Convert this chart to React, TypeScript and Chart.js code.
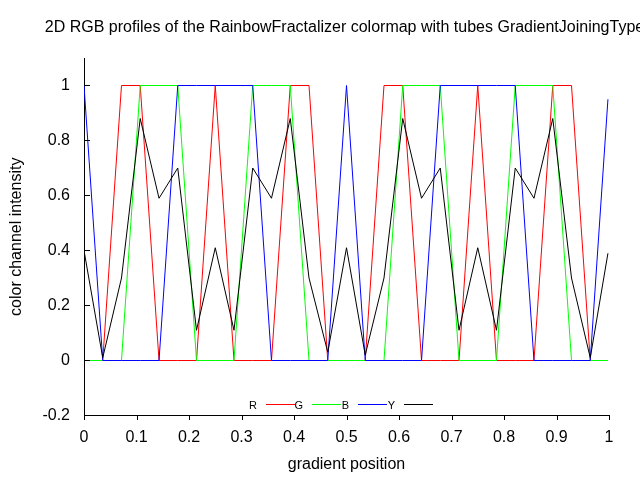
import React, { useEffect, useRef } from "react";
import { Chart, registerables } from "chart.js";

Chart.register(...registerables);

const TITLE = "2D RGB profiles of the RainbowFractalizer colormap with tubes GradientJoiningType";
const X_LABEL = "gradient position";
const Y_LABEL = "color channel intensity";

const POSITIONS = [
  0, 0.0357, 0.0714, 0.1071, 0.1429, 0.1786, 0.2143, 0.25, 0.2857, 0.3214,
  0.3571, 0.3929, 0.4286, 0.4643, 0.5, 0.5357, 0.5714, 0.6071, 0.6429, 0.6786,
  0.7143, 0.75, 0.7857, 0.8214, 0.8571, 0.8929, 0.9286, 0.9643, 0.998,
];
const R_VALUES = [0, 0, 1, 1, 0, 0, 0, 1, 0, 0, 0, 1, 1, 0, 0, 0, 1, 1, 0, 0, 0, 1, 0, 0, 0, 1, 1, 0, 0];
const G_VALUES = [0, 0, 0, 1, 1, 1, 0, 0, 0, 1, 1, 1, 0, 0, 0, 0, 0, 1, 1, 1, 0, 0, 0, 1, 1, 1, 0, 0, 0];
const B_VALUES = [1, 0, 0, 0, 0, 1, 1, 1, 1, 1, 0, 0, 0, 0, 1, 0, 0, 0, 0, 1, 1, 1, 1, 1, 0, 0, 0, 0, 0.95];
const Y_VALUES = [
  0.4, 0.01, 0.3, 0.88, 0.59, 0.7, 0.11, 0.41, 0.11, 0.7, 0.59, 0.88, 0.3, 0.03,
  0.41, 0.02, 0.3, 0.88, 0.59, 0.7, 0.11, 0.41, 0.11, 0.7, 0.59, 0.88, 0.3, 0.01, 0.39,
];

const SERIES_NAMES = ["R", "G", "B", "Y"];
const SERIES_COLORS = ["#ff0000", "#00ff00", "#0000ff", "#000000"];
const SERIES_VALUES = [R_VALUES, G_VALUES, B_VALUES, Y_VALUES];

const X_TICKS = [0, 0.1, 0.2, 0.3, 0.4, 0.5, 0.6, 0.7, 0.8, 0.9, 1];
const X_TICK_LABELS = ["0", "0.1", "0.2", "0.3", "0.4", "0.5", "0.6", "0.7", "0.8", "0.9", "1"];
const Y_TICKS = [-0.2, 0, 0.2, 0.4, 0.6, 0.8, 1];
const Y_TICK_LABELS = ["-0.2", "0", "0.2", "0.4", "0.6", "0.8", "1"];

const FONT = "'Liberation Sans', Arial, sans-serif";

const decorPlugin = {
  id: "decor",
  afterDraw(chart: any) {
    const { ctx, chartArea } = chart;
    const xs = chart.scales.x;
    const ys = chart.scales.y;
    ctx.save();
    ctx.strokeStyle = "#000";
    ctx.lineWidth = 1;
    ctx.beginPath();
    Y_TICKS.forEach((v) => {
      const py = Math.floor(ys.getPixelForValue(v)) + 0.5;
      ctx.moveTo(chartArea.left, py);
      ctx.lineTo(chartArea.left + 6, py);
    });
    const bottom = Math.floor(chartArea.bottom);
    X_TICKS.forEach((v) => {
      const px = Math.round(xs.getPixelForValue(v)) + 0.5;
      ctx.moveTo(px, bottom);
      ctx.lineTo(px, bottom + 5);
    });
    ctx.stroke();

    const cx = (chartArea.left + chartArea.right) / 2;
    ctx.fillStyle = "#000";
    ctx.font = `16px ${FONT}`;
    ctx.textAlign = "center";
    ctx.textBaseline = "alphabetic";
    ctx.fillText(TITLE, cx - 2, chartArea.top - 26);

    ctx.font = `11px ${FONT}`;
    ctx.textAlign = "right";
    const start = cx - 80.5;
    const lineY = bottom - 10.5;
    SERIES_NAMES.forEach((name, i) => {
      const ls = start + 46 * i;
      ctx.fillStyle = "#000";
      ctx.fillText(name, ls - 9, lineY + 4);
      ctx.strokeStyle = SERIES_COLORS[i];
      ctx.beginPath();
      ctx.moveTo(ls, lineY);
      ctx.lineTo(ls + 29, lineY);
      ctx.stroke();
    });
    ctx.restore();
  },
};

export default function App() {
  const ref = useRef<HTMLCanvasElement | null>(null);
  useEffect(() => {
    if (!ref.current) return;
    const datasets = SERIES_NAMES.map((name, i) => ({
      label: name,
      data: POSITIONS.map((x, j) => ({ x, y: SERIES_VALUES[i][j] })),
      borderColor: SERIES_COLORS[i],
      backgroundColor: SERIES_COLORS[i],
      borderWidth: 1,
      pointRadius: 0,
      tension: 0,
      fill: false,
      order: SERIES_NAMES.length - i,
    }));
    const chart = new Chart(ref.current, {
      type: "line",
      data: { datasets },
      options: {
        animation: false,
        responsive: false,
        layout: { padding: { top: 58, right: 31, left: 0, bottom: 0 } },
        plugins: { legend: { display: false }, title: { display: false }, tooltip: { enabled: false } },
        scales: {
          x: {
            type: "linear",
            min: 0,
            max: 1,
            grid: { display: false, drawTicks: false },
            border: { display: true, color: "#000", width: 1 },
            afterBuildTicks: (s: any) => {
              s.ticks = X_TICKS.map((value) => ({ value }));
            },
            afterFit: (s: any) => {
              s.height = 64.5;
            },
            ticks: {
              color: "#000",
              padding: 12,
              maxRotation: 0,
              autoSkip: false,
              font: { family: FONT, size: 16 },
              callback: (v: any) => X_TICK_LABELS[X_TICKS.indexOf(Number(v))] ?? "",
            },
            title: {
              display: true,
              text: X_LABEL,
              color: "#000",
              font: { family: FONT, size: 16 },
              padding: { top: 0, bottom: 6 },
            },
          },
          y: {
            type: "linear",
            min: -0.2,
            max: 1.1,
            grid: { display: false, drawTicks: false },
            border: { display: true, color: "#000", width: 1 },
            afterBuildTicks: (s: any) => {
              s.ticks = Y_TICKS.map((value) => ({ value }));
            },
            afterFit: (s: any) => {
              s.width = 84;
            },
            ticks: {
              color: "#000",
              padding: 14,
              autoSkip: false,
              font: { family: FONT, size: 16 },
              callback: (v: any) => Y_TICK_LABELS[Y_TICKS.indexOf(Number(v))] ?? "",
            },
            title: {
              display: true,
              text: Y_LABEL,
              color: "#000",
              font: { family: FONT, size: 16 },
              padding: { top: 7, bottom: 0 },
            },
          },
        },
      },
      plugins: [decorPlugin],
    });
    return () => chart.destroy();
  }, []);
  return (
    <div style={{ position: "fixed", left: 0, top: 0, width: 640, height: 480, background: "#fff" }}>
      <canvas ref={ref} width={640} height={480} />
    </div>
  );
}
